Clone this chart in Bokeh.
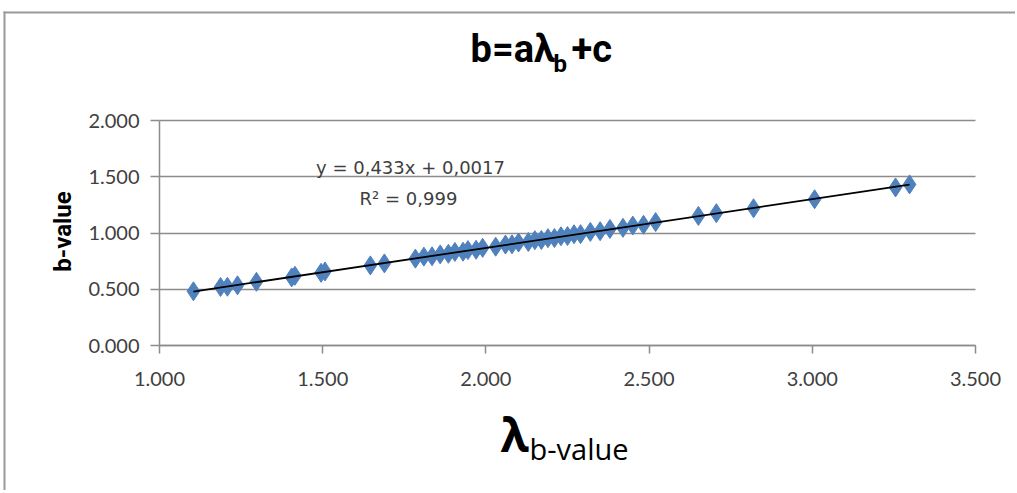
import math
from bokeh.plotting import figure
from bokeh.models import Range1d, FixedTicker, NumeralTickFormatter, Label, BoxAnnotation, Grid
from bokeh.embed import file_html
from bokeh.resources import INLINE

# ---- data ----
lam_b = [1.104, 1.187, 1.208, 1.239, 1.297, 1.405, 1.415, 1.495, 1.507, 1.646,
         1.689, 1.784, 1.81, 1.835, 1.86, 1.885, 1.905, 1.93, 1.945, 1.97,
         1.99, 2.03, 2.06, 2.08, 2.10, 2.13, 2.15, 2.17, 2.19, 2.21,
         2.23, 2.25, 2.27, 2.29, 2.32, 2.35, 2.38, 2.42, 2.45, 2.483,
         2.52, 2.651, 2.706, 2.82, 3.007, 3.255, 3.298]
b_value = [0.482, 0.520, 0.522, 0.535, 0.566, 0.605, 0.620, 0.646, 0.658, 0.712,
           0.730, 0.772, 0.790, 0.793, 0.810, 0.815, 0.832, 0.834, 0.848, 0.851,
           0.868, 0.878, 0.897, 0.899, 0.915, 0.920, 0.936, 0.938, 0.954, 0.955,
           0.971, 0.973, 0.989, 0.990, 1.010, 1.016, 1.036, 1.046, 1.066, 1.073,
           1.097, 1.152, 1.176, 1.220, 1.300, 1.405, 1.432]
slope = 0.433
intercept = 0.0017
x_ticks = [1.0, 1.5, 2.0, 2.5, 3.0, 3.5]
y_ticks = [0.0, 0.5, 1.0, 1.5, 2.0]
eq_text = "y = 0,433x + 0,0017"
r2_text = "R² = 0,999"

TXT = "#404040"
GRID = "#8c8c8c"
BORDER = "#9a9a9a"

W, H = 1015, 490
# pixel placement of the plot area inside the canvas
X0_PX, X1_PX = 159, 975     # x = first / last tick
Y0_PX, Y1_PX = 345, 120     # y = first / last tick
sx = (X1_PX - X0_PX) / (x_ticks[-1] - x_ticks[0])
sy = (Y0_PX - Y1_PX) / (y_ticks[-1] - y_ticks[0])
x_range = Range1d(x_ticks[0] - X0_PX / sx, x_ticks[0] + (W - X0_PX) / sx)
y_range = Range1d(y_ticks[0] - (H - Y0_PX) / sy, y_ticks[0] + Y0_PX / sy)

p = figure(width=W, height=H, output_backend="svg", toolbar_location=None,
           x_range=x_range, y_range=y_range)
p.min_border = 0
p.min_border_left = p.min_border_right = p.min_border_top = p.min_border_bottom = 0
p.outline_line_color = None
p.background_fill_color = "white"
p.border_fill_color = "white"

p.xgrid.visible = False
p.ygrid.visible = False
ygrid = Grid(dimension=1, ticker=FixedTicker(ticks=y_ticks),
             grid_line_color=GRID, grid_line_width=1.5)
if "cross_bounds" in Grid.properties():
    ygrid.cross_bounds = (x_ticks[0], x_ticks[-1])
    p.add_layout(ygrid)
else:
    p.segment(x0=[x_ticks[0]] * len(y_ticks), x1=[x_ticks[-1]] * len(y_ticks),
              y0=y_ticks, y1=y_ticks, line_color=GRID, line_width=1.5)

p.xaxis.fixed_location = y_ticks[0]
p.yaxis.fixed_location = x_ticks[0]
p.xaxis.bounds = (x_ticks[0], x_ticks[-1])
p.yaxis.bounds = (y_ticks[0], y_ticks[-1])
for ax, ticks in ((p.xaxis[0], x_ticks), (p.yaxis[0], y_ticks)):
    ax.ticker = FixedTicker(ticks=ticks)
    ax.formatter = NumeralTickFormatter(format="0.000")
    ax.axis_line_color = GRID
    ax.axis_line_width = 1.5
    ax.major_tick_line_color = GRID
    ax.major_tick_line_width = 1.5
    ax.major_tick_in = 0
    ax.minor_tick_line_color = None
    ax.major_label_text_font = "Lato"
    ax.major_label_text_font_size = "20px"
    ax.major_label_text_color = TXT
p.xaxis.major_tick_out = 8
p.yaxis.major_tick_out = 9
p.xaxis.major_label_standoff = 18
p.yaxis.major_label_standoff = 11

# chart frame border (only top and left edges are in view)
for l, r, t, b in ((3, W, 11, 13), (3, 5, 11, H)):
    p.add_layout(BoxAnnotation(left=l, right=r, top=t, bottom=b,
                               left_units="canvas", right_units="canvas",
                               top_units="canvas", bottom_units="canvas",
                               fill_color=BORDER, fill_alpha=1, line_color=None))

# markers
p.scatter(lam_b, b_value, marker="diamond", size=19, fill_color="#4F81BD",
          line_color="#4F81BD", line_width=1)
# trendline
xs_line = [min(lam_b), max(lam_b)]
p.line(xs_line, [slope * v + intercept for v in xs_line], line_color="black", line_width=1.8)


def lab(px, py, text, **kw):
    p.add_layout(Label(x=px, y=py, x_units="canvas", y_units="canvas",
                       text=text, text_align="left", text_baseline="middle", **kw))


# title pieces
tfont = "Roboto"
lab(470, 48, "b=aλ", text_font=tfont, text_font_style="bold", text_font_size="38px",
    text_color="black")
lab(553, 63, "b", text_font=tfont, text_font_style="bold", text_font_size="24px",
    text_color="black")
lab(571, 48, "+c", text_font=tfont, text_font_style="bold", text_font_size="38px",
    text_color="black")

# x axis label
lab(500, 433, "λ", text_font="Open Sans", text_font_size="46px", text_color="black",
    text_font_style="bold")
lab(529, 448, "b-value", text_font="Open Sans", text_font_size="29px",
    text_color="black")

# y axis label
p.add_layout(Label(x=62, y=231, x_units="canvas", y_units="canvas", text="b-value",
                   text_font="Roboto", text_font_style="bold", text_font_size="24px",
                   text_color="black", angle=math.pi / 2,
                   text_align="center", text_baseline="middle"))

# equation labels
p.add_layout(Label(x=410, y=167, x_units="canvas", y_units="canvas", text=eq_text,
                   text_font="DejaVu Sans", text_font_size="18px", text_color=TXT,
                   text_align="center", text_baseline="middle"))
p.add_layout(Label(x=408, y=198, x_units="canvas", y_units="canvas", text=r2_text,
                   text_font="DejaVu Sans", text_font_size="18px", text_color=TXT,
                   text_align="center", text_baseline="middle"))

open("out.html", "w").write(file_html(p, INLINE))
